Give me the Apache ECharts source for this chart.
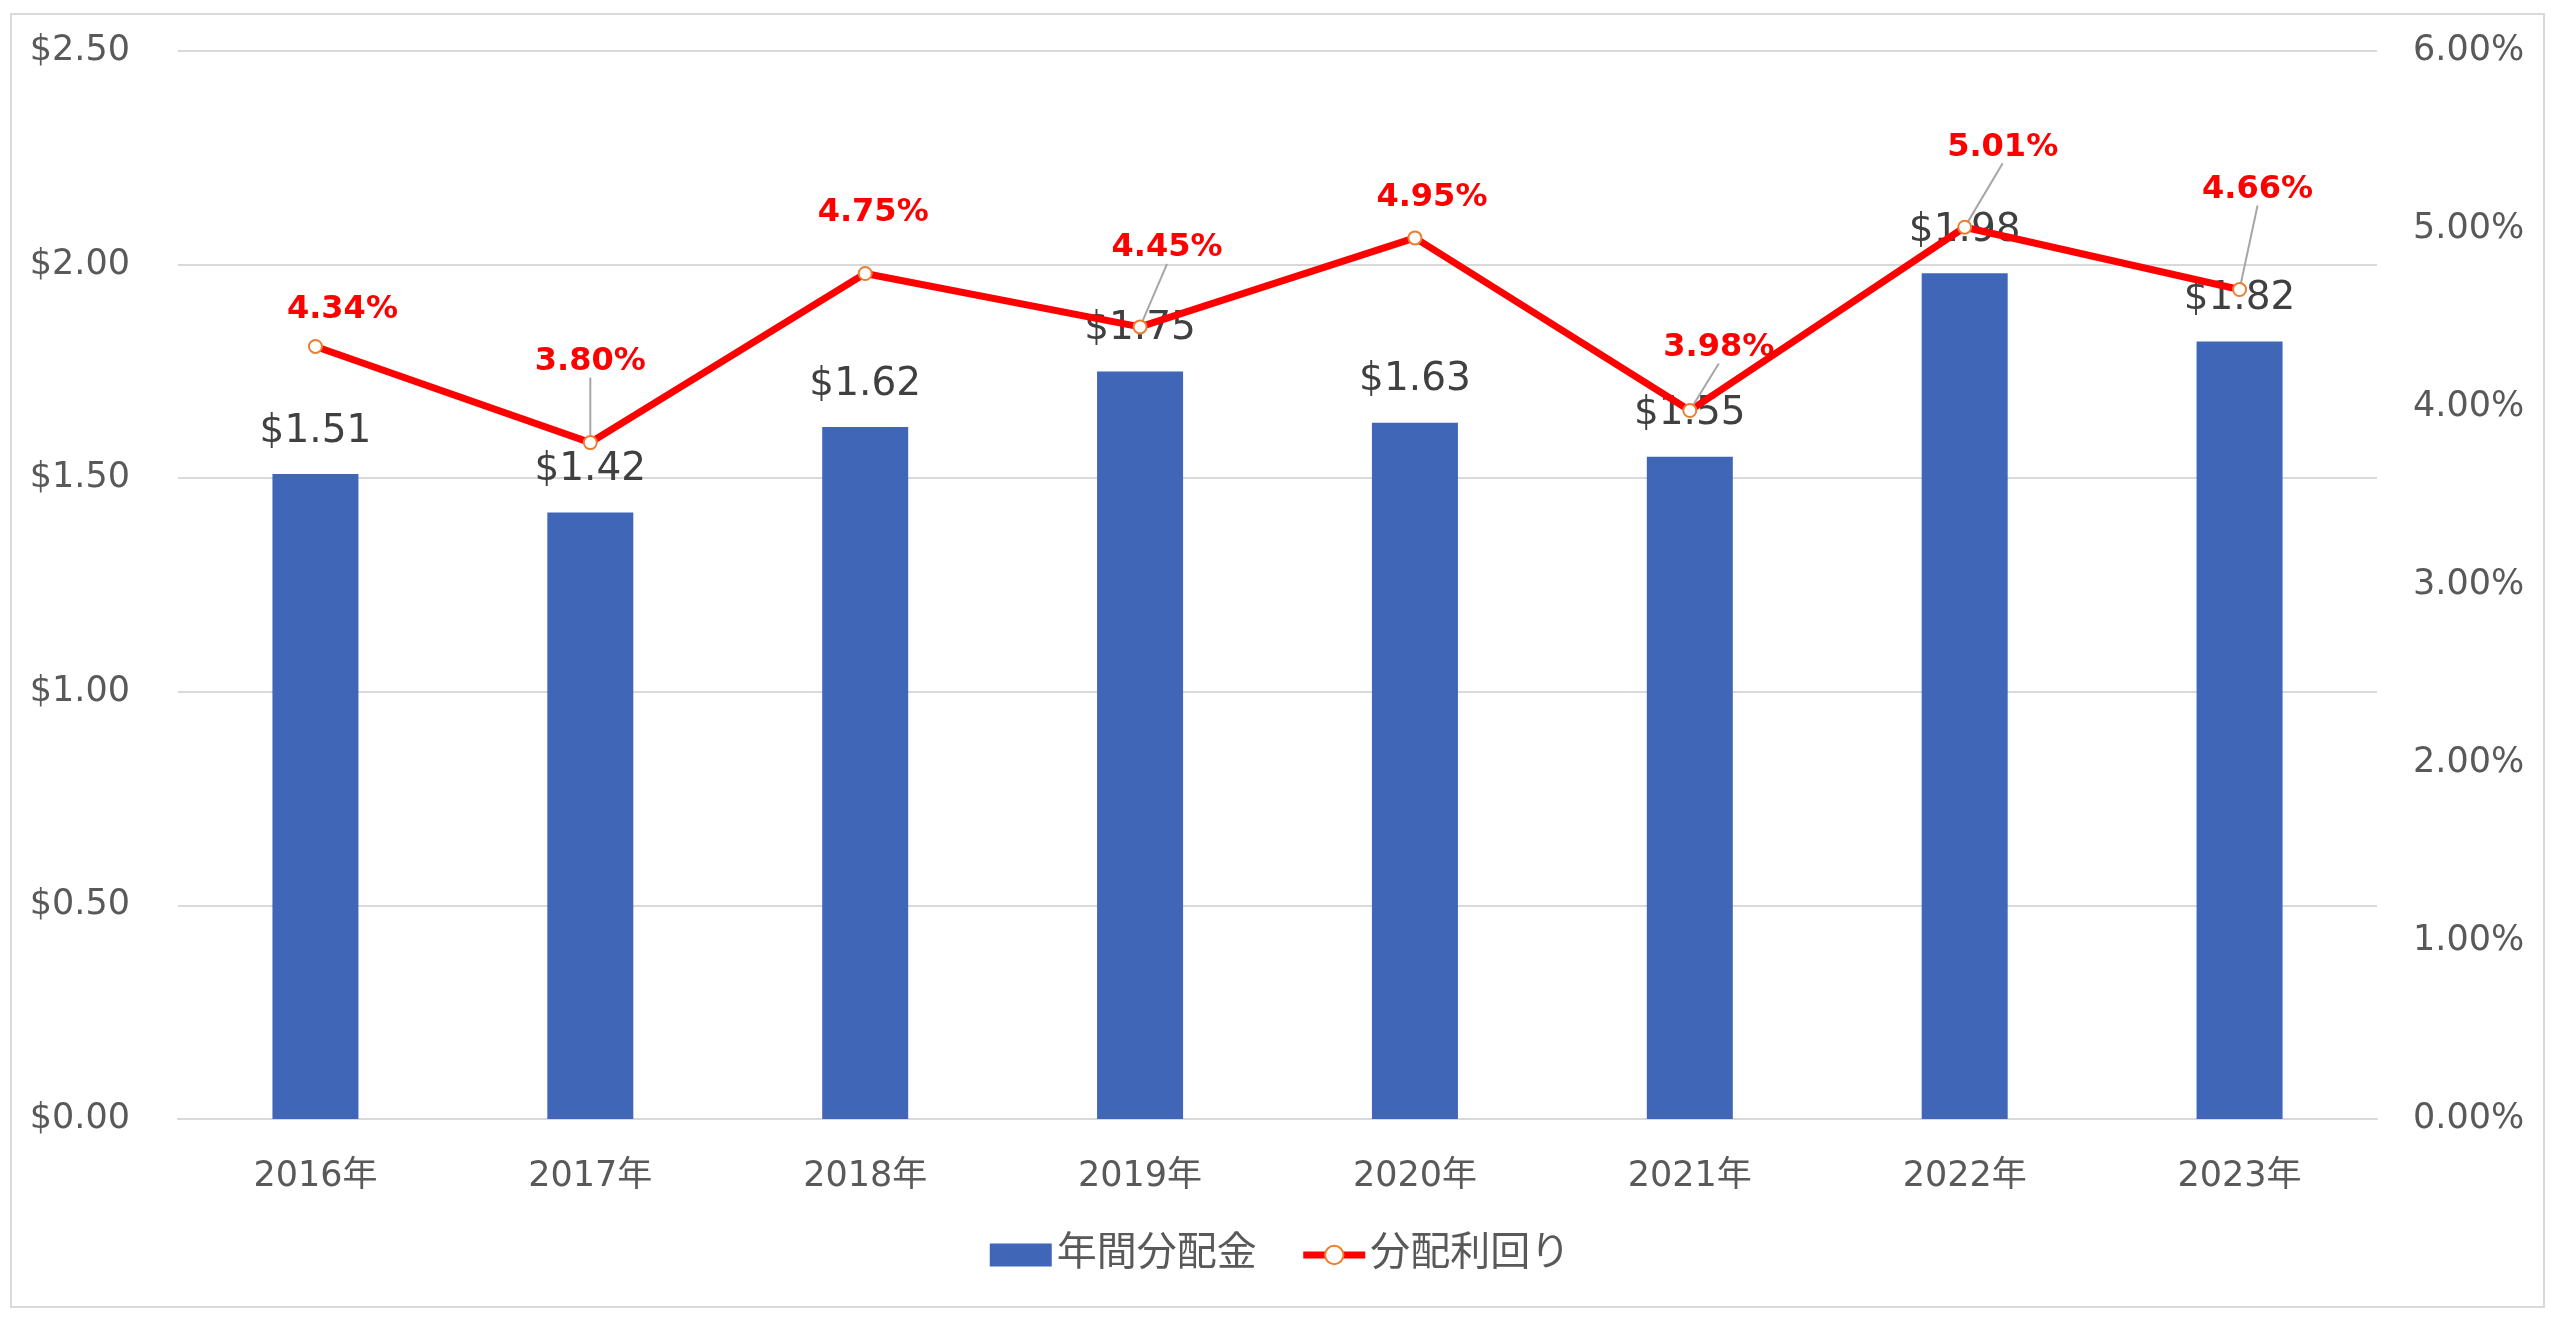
<!DOCTYPE html>
<html>
<head>
<meta charset="utf-8">
<script src="https://cdn.jsdelivr.net/npm/echarts@6/dist/echarts.min.js"></script>
<style>
html,body{margin:0;padding:0;background:#fff;}
#frame{position:absolute;left:10px;top:13px;width:2535px;height:1295px;border:2px solid #D9D9D9;box-sizing:border-box;}
#chart{position:absolute;left:0;top:0;width:2560px;height:1328px;}
</style>
</head>
<body>
<div id="frame"></div>
<div id="chart"></div>
<script>
const categories = ['2016年','2017年','2018年','2019年','2020年','2021年','2022年','2023年'];
const annualDistribution = [1.51, 1.42, 1.62, 1.75, 1.63, 1.55, 1.98, 1.82];
const distributionYield = [4.34, 3.80, 4.75, 4.45, 4.95, 3.98, 5.01, 4.66];
const leftTicks = {min: 0, max: 2.5, interval: 0.5};
const rightTicks = {min: 0, max: 6, interval: 1};

// label placement (offset from point, px) and whether a leader line is shown
const yieldLabelOffsets = [[27,-37],[0,-81],[8,-61],[27,-79],[17,-40],[29,-63],[38,-80],[18,-100]];
const yieldLeader = [false, true, false, true, false, true, true, true];

const FONT = "'DejaVu Sans', 'Noto Sans CJK JP', sans-serif";
const chart = echarts.init(document.getElementById('chart'));
chart.setOption({
  animation: false,
  textStyle: {fontFamily: FONT},
  grid: {left: 178, right: 183, top: 51, bottom: 209, containLabel: false},
  legend: {
    bottom: 48, left: 'center',
    itemWidth: 62, itemHeight: 23, itemGap: 43,
    textStyle: {fontSize: 40, color: '#595959', fontFamily: FONT},
    data: [
      {name: '年間分配金', icon: 'rect'},
      {name: '分配利回り', lineStyle: {width: 7, color: '#FF0000'}}
    ]
  },
  xAxis: {
    type: 'category', data: categories,
    axisLine: {lineStyle: {color: '#D9D9D9', width: 2}},
    axisTick: {show: false},
    axisLabel: {fontSize: 35, color: '#595959', margin: 40, fontFamily: FONT}
  },
  yAxis: [{
    type: 'value', min: leftTicks.min, max: leftTicks.max, interval: leftTicks.interval,
    axisLine: {show: false}, axisTick: {show: false},
    splitLine: {lineStyle: {color: '#D9D9D9', width: 2}},
    axisLabel: {fontSize: 35, color: '#595959', margin: 48, align: 'right',
      formatter: v => '$' + v.toFixed(2)}
  }, {
    type: 'value', min: rightTicks.min, max: rightTicks.max, interval: rightTicks.interval,
    axisLine: {show: false}, axisTick: {show: false}, splitLine: {show: false},
    axisLabel: {fontSize: 35, color: '#595959', margin: 36,
      formatter: v => v.toFixed(2) + '%'}
  }],
  series: [{
    name: '年間分配金', type: 'bar', yAxisIndex: 0,
    data: annualDistribution,
    barWidth: 86,
    itemStyle: {color: '#4066B8'},
    label: {show: true, position: 'top', distance: 23, fontSize: 39, color: '#404040',
      fontFamily: FONT, formatter: p => '$' + p.value.toFixed(2)}
  }, {
    name: '分配利回り', type: 'line', yAxisIndex: 1,
    data: distributionYield.map((v, i) => ({value: v, labelLine: {show: yieldLeader[i]}})),
    lineStyle: {color: '#FF0000', width: 7},
    symbol: 'circle', symbolSize: 13,
    itemStyle: {color: '#FFFFFF', borderColor: '#ED7D31', borderWidth: 2},
    z: 3,
    label: {show: true, position: 'inside', fontSize: 32, fontWeight: 'bold', color: '#FF0000',
      fontFamily: FONT, formatter: p => p.value.toFixed(2) + '%'},
    labelLine: {lineStyle: {color: '#A6A6A6', width: 2}},
    labelLayout: p => ({dx: yieldLabelOffsets[p.dataIndex][0], dy: yieldLabelOffsets[p.dataIndex][1]})
  }]
});
</script>
</body>
</html>
